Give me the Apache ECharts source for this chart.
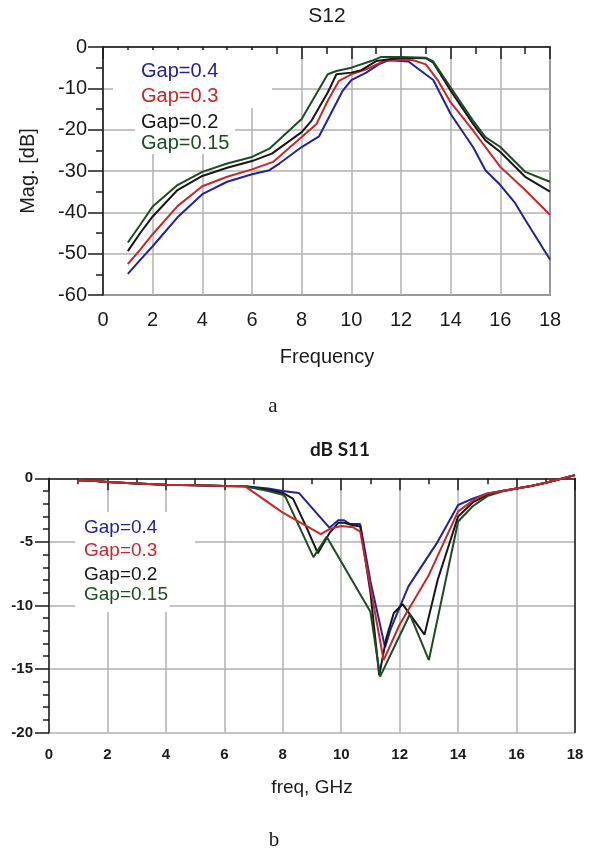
<!DOCTYPE html>
<html><head><meta charset="utf-8">
<script src="https://cdn.jsdelivr.net/npm/echarts@6/dist/echarts.min.js"></script>
<style>html,body{margin:0;padding:0;background:#fff}#c{width:597px;height:854px}</style>
</head><body><div id="c"></div>
<script>
// ---------- data ----------
const gapNames = ['Gap=0.4', 'Gap=0.3', 'Gap=0.2', 'Gap=0.15'];
const gapColors = ['#22229a', '#c8262a', '#161616', '#1f4a24'];

// S12 (top chart), frequency in GHz, magnitude in dB
const s12Freq04 = [1,1.5,2,3,4,5,6,6.7,7.1,8,8.7,9.1,9.65,10,10.6,11.1,11.5,12.3,13.3,14,14.9,15.4,16,16.6,17,18];
const s12Mag04  = [-54.9,-51.5,-48.2,-41.2,-35.6,-32.6,-30.8,-29.8,-28.2,-24.2,-21.6,-17,-10.6,-8,-6.2,-4.2,-3.2,-3.5,-8,-16.2,-24.2,-29.8,-33.4,-37.8,-41.8,-51.4];
const s12Freq03 = [1,1.5,2,3,4,5,6,6.85,8,8.6,9.05,9.5,10,10.6,11.3,12,12.5,13,13.5,14,14.9,16,17,18];
const s12Mag03  = [-52.5,-49,-45.3,-38.5,-33.7,-31.4,-29.6,-27.8,-21.8,-18.6,-13,-8.2,-6.6,-5.4,-3.4,-3,-3.2,-4.2,-8.2,-13.4,-20.2,-29,-34.6,-40.6];
const s12Freq02 = [1,1.5,2,3,4,5,6,6.8,8,8.4,9.05,9.4,10,10.4,11,12,13,13.3,14,14.9,15.4,16,17,18];
const s12Mag02  = [-49.4,-45,-41,-34.6,-31.2,-29.2,-27.6,-25.8,-20.6,-17.8,-11,-6.6,-6.2,-5.6,-3.4,-2.6,-2.7,-3.8,-10.6,-18.6,-22.6,-25.4,-31.4,-35];
const s12Freq015 = [1,1.5,2,3,4,5,6,6.7,8,9.05,9.4,10,10.8,11.2,12,13,13.3,14,14.9,15.4,16,17,18];
const s12Mag015  = [-47.3,-43,-38.6,-33.4,-30.2,-28.2,-26.6,-24.6,-17.4,-6.6,-5.8,-5,-3.4,-2.4,-2.4,-2.6,-3.5,-9.8,-17.8,-21.8,-24.2,-30.2,-32.6];

// S11 (bottom chart)
const s11Freq04 = [1,1.5,2,3,4,5,6,6.7,7.5,8,8.55,9.6,9.9,10.1,10.3,10.65,11,11.5,11.7,12.1,12.3,13.3,14,14.5,15,15.5,16,16.5,17,17.5,18];
const s11Mag04  = [-0.15,-0.2,-0.3,-0.4,-0.5,-0.55,-0.6,-0.62,-0.8,-1.0,-1.15,-3.9,-3.3,-3.3,-3.6,-3.6,-8.1,-13.3,-11.8,-9.6,-8.5,-5,-2.1,-1.6,-1.2,-1.0,-0.8,-0.6,-0.35,-0.05,0.25];
const s11Freq03 = [1,1.5,2,3,4,5,6,6.7,8,9.3,9.6,10,10.4,10.65,11,11.45,12,13,14,14.6,15,15.5,16,16.5,17,17.5,18];
const s11Mag03  = [-0.15,-0.2,-0.3,-0.4,-0.5,-0.55,-0.6,-0.62,-2.7,-4.4,-4.0,-3.75,-3.85,-4.2,-8.6,-14.3,-11.5,-7.6,-2.6,-1.6,-1.2,-1.0,-0.8,-0.6,-0.35,-0.05,0.25];
const s11Freq02 = [1,1.5,2,3,4,5,6,6.7,7.5,8,8.35,8.8,9.2,9.6,9.9,10.1,10.4,10.65,11,11.3,11.55,11.8,12.1,12.85,13.3,14,14.5,15,15.5,16,16.5,17,17.5,18];
const s11Mag02  = [-0.15,-0.2,-0.3,-0.4,-0.5,-0.55,-0.6,-0.62,-0.9,-1.15,-1.6,-3.8,-5.9,-4.3,-3.5,-3.5,-3.7,-3.8,-9.0,-15.5,-12.5,-10.6,-9.9,-12.3,-8,-3.0,-1.9,-1.3,-1.0,-0.8,-0.6,-0.35,-0.05,0.25];
const s11Freq015 = [1,1.5,2,3,4,5,6,6.7,7.5,8,8.1,9.05,9.5,11,11.33,12.35,13,14,14.5,15,15.5,16,16.5,17,17.5,18];
const s11Mag015  = [-0.15,-0.2,-0.3,-0.4,-0.5,-0.55,-0.6,-0.62,-1.0,-1.3,-1.5,-6.2,-4.6,-10.5,-15.6,-10.7,-14.3,-3.4,-2.2,-1.4,-1.05,-0.8,-0.6,-0.35,-0.05,0.25];

// tick labels
const s12YTicks = [-60,-50,-40,-30,-20,-10,0];
const s11YTicks = [-20,-15,-10,-5,0];
const freqTicks = [0,2,4,6,8,10,12,14,16,18];

// ---------- build ----------
const zip = (xs, ys) => xs.map((x, i) => [x, ys[i]]);
const s12Sets = [[s12Freq04, s12Mag04], [s12Freq03, s12Mag03], [s12Freq02, s12Mag02], [s12Freq015, s12Mag015]];
const s11Sets = [[s11Freq04, s11Mag04], [s11Freq03, s11Mag03], [s11Freq02, s11Mag02], [s11Freq015, s11Mag015]];

const SANS = '"Liberation Sans", Arial, sans-serif';
const AX = '#1c1c1c';
const GRIDC = '#b0b0b0';

const series = [];
s12Sets.forEach((s, i) => series.push({
  name: gapNames[i], type: 'line', xAxisIndex: 0, yAxisIndex: 0,
  data: zip(s[0], s[1]), symbol: 'none', smooth: false,
  lineStyle: { color: gapColors[i], width: 2 }, itemStyle: { color: gapColors[i] }
}));
// bottom chart: red (Gap=0.3) drawn on top, as in the reference
[0, 2, 3, 1].forEach((i) => series.push({
  name: gapNames[i], type: 'line', xAxisIndex: 1, yAxisIndex: 1, clip: false,
  data: zip(s11Sets[i][0], s11Sets[i][1]), symbol: 'none',
  lineStyle: { color: gapColors[i], width: 2 }, itemStyle: { color: gapColors[i] }
}));

const text = (t, x, y, opt) => Object.assign({
  type: 'text', x: x, y: y, z: 100,
  style: Object.assign({ text: t, fill: '#1a1a1a', font: '20px ' + SANS, textAlign: 'center', textVerticalAlign: 'middle', align: 'center', verticalAlign: 'middle' }, opt || {})
});
const rect = (x, y, w, h) => ({ type: 'rect', z: 90, shape: { x: x, y: y, width: w, height: h }, style: { fill: '#fff' } });

const legendTop = [71.7, 96.7, 122.3, 143.5];
const legendBot = [527.5, 551, 575, 594.5];

const chart = echarts.init(document.getElementById('c'), null, { renderer: 'canvas' });
chart.setOption({
  animation: false,
  backgroundColor: '#fff',
  grid: [
    { left: 103, top: 47, width: 447, height: 248, show: true, borderColor: AX, borderWidth: 1.5, backgroundColor: 'transparent' },
    { left: 49, top: 478.3, width: 526, height: 254.2 }
  ],
  xAxis: [
    { gridIndex: 0, type: 'value', min: freqTicks[0], max: freqTicks[freqTicks.length - 1], interval: 2,
      axisLine: { show: true, lineStyle: { color: AX, width: 1.5 } },
      axisTick: { show: true, length: 12, lineStyle: { color: AX, width: 1.5 } },
      minorTick: { show: true, splitNumber: 2, length: 7, lineStyle: { color: AX, width: 1.5 } },
      axisLabel: { fontSize: 20, fontFamily: SANS, color: '#1a1a1a', margin: 15 },
      splitLine: { show: true, lineStyle: { color: GRIDC, width: 1.5 } } },
    { gridIndex: 1, type: 'value', min: freqTicks[0], max: freqTicks[freqTicks.length - 1], interval: 2,
      axisLine: { show: true, lineStyle: { color: AX, width: 1.5 } },
      axisTick: { show: true, length: 12, lineStyle: { color: AX, width: 1.5 } },
      minorTick: { show: true, splitNumber: 2, length: 6, lineStyle: { color: AX, width: 1.5 } },
      axisLabel: { fontSize: 15, fontWeight: 'bold', fontFamily: SANS, color: '#1a1a1a', margin: 15 },
      splitLine: { show: true, lineStyle: { color: GRIDC, width: 1.5 } } }
  ],
  yAxis: [
    { gridIndex: 0, type: 'value', min: s12YTicks[0], max: s12YTicks[s12YTicks.length - 1], interval: 10,
      axisLine: { show: true, lineStyle: { color: AX, width: 1.5 } },
      axisTick: { show: true, length: 15, lineStyle: { color: AX, width: 1.5 } },
      minorTick: { show: true, splitNumber: 2, length: 7, lineStyle: { color: AX, width: 1.5 } },
      axisLabel: { fontSize: 20, fontFamily: SANS, color: '#1a1a1a', margin: 16 },
      splitLine: { show: true, lineStyle: { color: GRIDC, width: 1.5 } } },
    { gridIndex: 1, type: 'value', min: s11YTicks[0], max: s11YTicks[s11YTicks.length - 1], interval: 5,
      axisLine: { show: true, lineStyle: { color: AX, width: 1.5 } },
      axisTick: { show: true, length: 14, lineStyle: { color: AX, width: 1.5 } },
      minorTick: { show: true, splitNumber: 5, length: 6, lineStyle: { color: AX, width: 1.5 } },
      axisLabel: { fontSize: 15, fontWeight: 'bold', fontFamily: SANS, color: '#1a1a1a', margin: 16 },
      splitLine: { show: true, lineStyle: { color: GRIDC, width: 1.5 } } },
    { gridIndex: 1, type: 'value', position: 'right', min: s11YTicks[0], max: s11YTicks[s11YTicks.length - 1], interval: 5,
      axisLine: { show: true, lineStyle: { color: AX, width: 1.5 } },
      axisTick: { show: false }, axisLabel: { show: false }, splitLine: { show: false } }
  ],
  series: series,
  graphic: [
    text('S12', 327, 16, { font: '21px ' + SANS }),
    text('Frequency', 327, 357, { font: '20px ' + SANS }),
    Object.assign(text('Mag. [dB]', 28.5, 171, { font: '20px ' + SANS }), { rotation: Math.PI / 2 }),
    text('a', 273, 406, { font: '21px "Liberation Serif", serif' }),
    text('dB S11', 340, 450, { font: 'bold 19px Lato, "Open Sans", sans-serif' }),
    text('freq, GHz', 312, 788, { font: '19px ' + SANS }),
    text('b', 274, 840, { font: '21px "Liberation Serif", serif' }),
    rect(113, 50, 159, 58), rect(135, 108, 100, 46),
    rect(75, 512, 120, 50), rect(75, 562, 95, 50)
  ].concat(gapNames.map((n, i) => text(n, 141, legendTop[i], { font: '20px ' + SANS, fill: gapColors[i], textAlign: 'left', align: 'left' })))
   .concat(gapNames.map((n, i) => text(n, 84, legendBot[i], { font: '19px ' + SANS, fill: gapColors[i], textAlign: 'left', align: 'left' })))
});
</script>
</body></html>
